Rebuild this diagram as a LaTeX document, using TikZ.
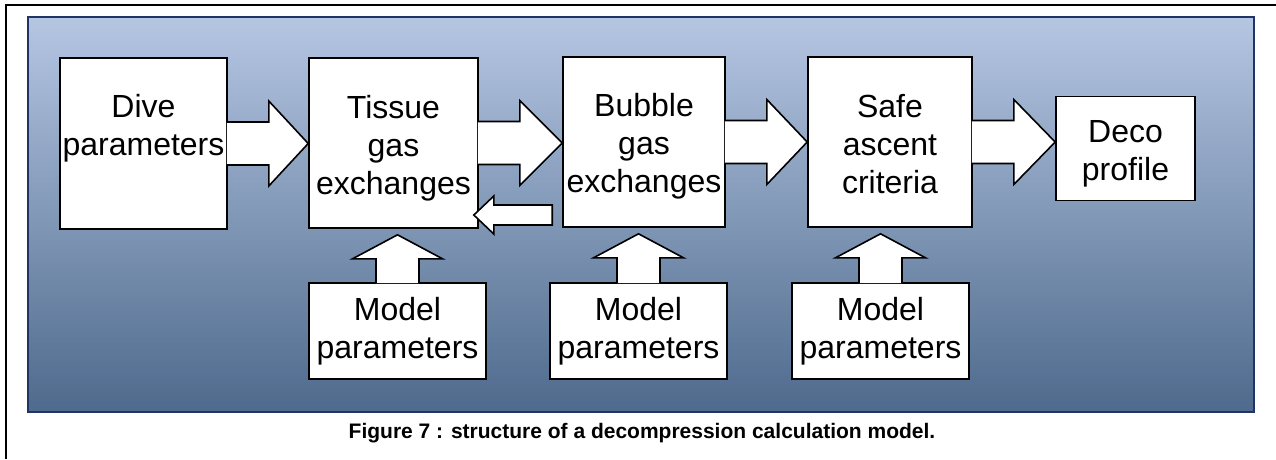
\documentclass[tikz,border=0pt]{standalone}
\usepackage{fontspec}
\setmainfont{Liberation Sans}
\usetikzlibrary{calc}
\definecolor{paneltop}{RGB}{181,198,226}
\definecolor{panelbot}{RGB}{78,106,140}
\definecolor{panelline}{RGB}{33,52,102}
\tikzset{
  box/.style={draw=black, fill=white, line width=1.6pt, inner sep=0pt},
  txt/.style={align=center, inner sep=0pt, font=\fontsize{32}{38}\selectfont},
  blk/.style={draw=black, fill=white, line width=1.6pt, line join=miter},
}
% right block arrow from node #1 to node #2
\newcommand\blockR[2]{%
  \filldraw[blk] ($(#1.east)+(-1,-21.5)$) -- ++(42,0) -- ++(0,-21)
    -- (#2.west |- #1.east) -- ($(#1.east)+(41,42.5)$) -- ++(0,-21) -- ++(-42,0);}
% up block arrow from node #1 towards node #2
\newcommand\blockU[2]{%
  \filldraw[blk] ($(#1.north)+(-21.5,1)$) -- ($(#1.north |- #2.south)+(-21.5,30)$)
    -- ++(-23.5,0) -- ($(#1.north |- #2.south)+(0,6)$)
    -- ($(#1.north |- #2.south)+(45,30)$) -- ++(-23.5,0) -- ($(#1.north)+(21.5,1)$);}
\begin{document}
\begin{tikzpicture}[x=1pt,y=-1pt]
\useasboundingbox (0,0) rectangle (1276,459);
\draw[line width=1.5pt] (6,459) -- (6,5) -- (1276,5);
\shade[top color=paneltop, bottom color=panelbot, draw=panelline, line width=2pt]
  (28,17) rectangle (1254,412);

\node[box, minimum width=167pt, minimum height=171pt,
  label={[txt,yshift=15pt]center:{Dive\\parameters}}] (dive) at (143.5,143.5) {};
\node[box, minimum width=169pt, minimum height=170pt,
  label={[txt,yshift=-5pt]center:{Tissue\\gas\\exchanges}}] (tissue) at (393.5,143) {};
\node[box, minimum width=162pt, minimum height=170pt,
  label={[txt,yshift=-4.5pt]center:{Bubble\\gas\\exchanges}}] (bubble) at (644,142) {};
\node[box, minimum width=164pt, minimum height=170pt,
  label={[txt,yshift=-2pt]center:{Safe\\ascent\\criteria}}] (safe) at (890,142) {};
\node[box, minimum width=139pt, minimum height=104pt,
  label={[txt,yshift=-5pt]center:{Deco\\profile}}] (deco) at (1125.5,148.5) {};

\node[box, minimum width=177pt, minimum height=96pt,
  label={[txt]center:{Model\\parameters}}] (m1) at (397.5,331) {};
\node[box, minimum width=177pt, minimum height=96pt,
  label={[txt]center:{Model\\parameters}}] (m2) at (638.5,331) {};
\node[box, minimum width=177pt, minimum height=96pt,
  label={[txt]center:{Model\\parameters}}] (m3) at (880.5,331) {};

\blockR{dive}{tissue}
\blockR{tissue}{bubble}
\blockR{bubble}{safe}
\blockR{safe}{deco}

\filldraw[blk] ($(bubble.west)+(-10,63)$) -- ($(tissue.east)+(15,62)$)
  -- ($(tissue.east)+(15,53)$) -- ($(tissue.east)+(-5,72)$)
  -- ($(tissue.east)+(15,91)$) -- ($(tissue.east)+(15,82)$)
  -- ($(bubble.west)+(-10,83)$) -- cycle;

\blockU{m1}{tissue}
\blockU{m2}{bubble}
\blockU{m3}{safe}

\node[font=\bfseries\fontsize{21}{25}\selectfont, anchor=base, inner sep=0pt] (cap) at (642,438)
  {Figure 7 : structure of a decompression calculation model.};
\end{tikzpicture}
\end{document}
